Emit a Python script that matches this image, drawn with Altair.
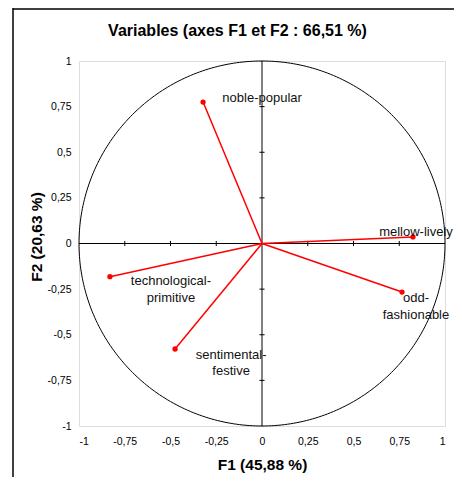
import altair as alt
import numpy as np
import pandas as pd

# Variables (correlation circle, F1 x F2)
labels = ["noble-popular", "mellow-lively", "odd-\nfashionable",
          "technological-\nprimitive", "sentimental-\nfestive"]
f1 = [-0.322, 0.825, 0.765, -0.831, -0.475]
f2 = [0.775, 0.036, -0.266, -0.182, -0.578]

tick_values = [-1, -0.75, -0.5, -0.25, 0, 0.25, 0.5, 0.75, 1]
inner_ticks = [-0.75, -0.5, -0.25, 0.25, 0.5, 0.75]

title_text = ["Variables (axes F1 et F2 : 66,51 %)"]

# label offsets in pixels (placement only)
label_dx = [59, 3, 14, 61, 56]
label_dy = [-4, -5, 6, 4.5, 6]

FONT = "Liberation Sans"
W, H = 366, 365

df = pd.DataFrame({"label": labels, "F1": f1, "F2": f2})

xs = alt.Scale(domain=[-1, 1], nice=False, zero=False)
ys = alt.Scale(domain=[-1, 1], nice=False, zero=False)

label_expr = "replace(toString(datum.value), '.', ',')"

x_enc = alt.X("F1:Q", scale=xs, axis=alt.Axis(
    values=tick_values, labelExpr=label_expr, domain=False, ticks=False, grid=False,
    labelFontSize=10.5, labelColor="#000", labelFont=FONT, labelPadding=10,
    title="F1 (45,88 %)", titleFont=FONT, titleFontSize=15.5, titleFontWeight="bold",
    titleColor="#000", titleY=38, titleBaseline="middle"))
y_enc = alt.Y("F2:Q", scale=ys, axis=alt.Axis(
    values=tick_values, labelExpr=label_expr, domain=False, ticks=False, grid=False,
    labelFontSize=10.5, labelColor="#000", labelFont=FONT, labelPadding=8,
    title="F2 (20,63 %)", titleFont=FONT, titleFontSize=15.5, titleFontWeight="bold",
    titleColor="#000", titleX=-43, titleY=175.5, titleAlign="center", titleBaseline="middle"))

# unit circle (geometric reference)
ang = np.linspace(0, 2 * np.pi, 361)
circle_df = pd.DataFrame({"F1": np.cos(ang), "F2": np.sin(ang), "i": np.arange(361)})
circle = alt.Chart(circle_df).mark_line(color="#000", strokeWidth=1).encode(
    x=x_enc, y=y_enc, order="i:Q")

# center axes
zero_df = pd.DataFrame({"v": [0]})
hline = alt.Chart(zero_df).mark_rule(color="#000", strokeWidth=1).encode(
    y=alt.Y("v:Q", scale=ys), x=alt.value(0), x2=alt.value(W))
vline = alt.Chart(zero_df).mark_rule(color="#000", strokeWidth=1).encode(
    x=alt.X("v:Q", scale=xs), y=alt.value(0), y2=alt.value(H))

tk = pd.DataFrame({"t": inner_ticks, "a": [-0.014] * len(inner_ticks), "b": [0.014] * len(inner_ticks)})
xticks = alt.Chart(tk).mark_rule(color="#000", strokeWidth=1).encode(
    x=alt.X("t:Q", scale=xs), y=alt.Y("a:Q", scale=ys), y2="b:Q")
yticks = alt.Chart(tk).mark_rule(color="#000", strokeWidth=1).encode(
    y=alt.Y("t:Q", scale=ys), x=alt.X("a:Q", scale=xs), x2="b:Q")

# vectors
vectors = alt.Chart(df).mark_rule(color="#ff0000", strokeWidth=1.5).encode(
    x=x_enc, y=y_enc, x2=alt.datum(0), y2=alt.datum(0))
points = alt.Chart(df).mark_circle(color="#ff0000", size=28, opacity=1).encode(
    x=x_enc, y=y_enc)

texts = []
for i in range(len(labels)):
    sub = df.iloc[[i]]
    texts.append(alt.Chart(sub).mark_text(
        font=FONT, fontSize=13, color="#111", align="center", baseline="middle",
        lineBreak="\n", lineHeight=16.5, dx=label_dx[i], dy=label_dy[i]).encode(
        x=alt.X("F1:Q", scale=xs), y=alt.Y("F2:Q", scale=ys), text="label:N"))

# chart title
title = alt.Chart(pd.DataFrame({"t": title_text})).mark_text(
    font=FONT, fontSize=16, fontWeight="bold", color="#000", align="center",
    baseline="alphabetic").encode(x=alt.value(158.5), y=alt.value(-25), text="t:N")

# outer chart-area frame (left and top edges)
frame_df = pd.DataFrame({"v": [0]})
frame_left = alt.Chart(frame_df).mark_rule(color="#000", strokeWidth=1.5).encode(
    x=alt.value(-66), y=alt.value(-53), y2=alt.value(H + 70))
frame_top = alt.Chart(frame_df).mark_rule(color="#000", strokeWidth=1.5).encode(
    x=alt.value(-66), x2=alt.value(W + 30), y=alt.value(-52))

chart = alt.layer(
    circle, hline, vline, xticks, yticks, vectors, points, *texts, title,
    frame_left, frame_top
).properties(
    width=W, height=H,
    autosize=alt.AutoSizeParams(type="none"),
    padding={"left": 71, "top": 53, "right": 9, "bottom": 51},
).configure_view(stroke="#999", strokeWidth=1).configure(background="white")

chart.save("out.html", embed_options={"renderer": "svg", "actions": False})
